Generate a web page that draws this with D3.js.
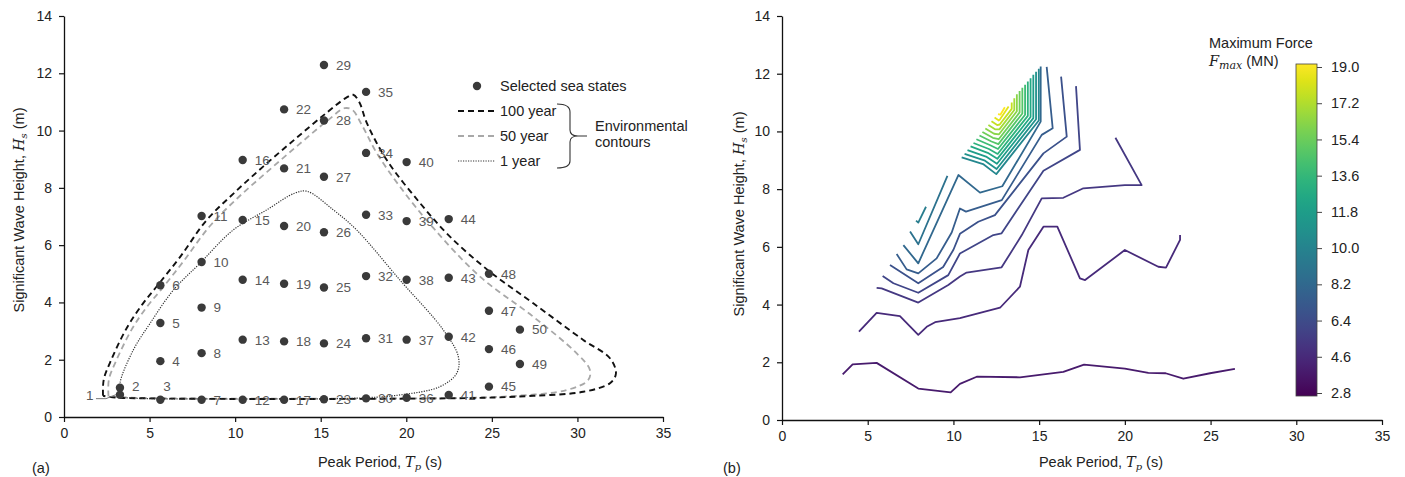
<!DOCTYPE html>
<html>
<head>
<meta charset="utf-8">
<script src="https://cdn.jsdelivr.net/npm/d3@7"></script>
<style>
  body { margin: 0; background: #fff; }
  svg text { font-family: "Liberation Sans", Arial, sans-serif; }
</style>
</head>
<body>
<div id="chart"></div>
<script>
// ---- data ----
const xTicks = [0, 5, 10, 15, 20, 25, 30, 35];
const yTicks = [0, 2, 4, 6, 8, 10, 12, 14];
const cbTicks = [2.8, 4.6, 6.4, 8.2, 10.0, 11.8, 13.6, 15.4, 17.2, 19.0];

const seaStateIds = [1,2,3,4,5,6,7,8,9,10,11,12,13,14,15,16,17,18,19,20,21,22,23,24,25,
  26,27,28,29,30,31,32,33,34,35,36,37,38,39,40,41,42,43,44,45,46,47,48,49,50];
const seaStateTp = [3.27,3.27,5.63,5.63,5.63,5.63,8.04,8.04,8.04,8.04,8.04,10.44,10.44,10.44,10.44,10.44,
  12.86,12.86,12.86,12.86,12.86,12.86,15.19,15.19,15.19,15.19,15.19,15.19,15.19,
  17.65,17.65,17.65,17.65,17.65,17.65,20.02,20.02,20.02,20.02,20.02,
  22.48,22.48,22.48,22.48,24.83,24.83,24.83,24.83,26.64,26.64];
const seaStateHs = [0.78,1.02,0.60,1.95,3.28,4.60,0.60,2.23,3.82,5.41,7.02,0.60,2.70,4.79,6.88,8.97,
  0.60,2.64,4.65,6.67,8.68,10.74,0.62,2.57,4.52,6.45,8.39,10.35,12.29,
  0.65,2.75,4.92,7.06,9.22,11.35,0.67,2.70,4.79,6.84,8.90,
  0.77,2.80,4.86,6.91,1.06,2.37,3.71,5.00,1.85,3.05];

const contour100 = [[2.28,0.74],[2.32,1.3],[2.69,1.9],[3.66,3.1],[4.6,3.95],[5.5,4.62],[6.8,5.6],
  [8.3,6.85],[9.9,7.8],[11.65,8.75],[13.5,9.7],[15.3,10.6],[16.5,11.15],[16.9,11.25],[17.25,11.0],
  [17.69,10.27],[18.86,8.97],[20.8,7.47],[22.55,6.3],[24.89,5.07],[27.42,3.97],[30.34,2.69],[31.9,2.05],
  [32.25,1.52],[31.9,1.18],[30.34,0.88],[27.42,0.74],[24.5,0.67],[20,0.64],[15,0.63],[10,0.63],
  [5,0.65],[3,0.68],[2.28,0.74]];
const contour50 = [[2.6,0.72],[2.62,1.3],[3.0,1.9],[3.95,3.05],[4.85,3.85],[5.75,4.5],[7.0,5.45],
  [8.5,6.65],[10.1,7.62],[11.85,8.55],[13.7,9.5],[15.4,10.35],[16.4,10.78],[16.85,10.72],[17.4,10.2],
  [18.27,9.22],[19.63,8.04],[21.58,6.6],[24.31,4.9],[27.42,3.5],[29.96,2.22],[30.73,1.64],[30.63,1.29],
  [29.37,0.94],[26.45,0.74],[23.6,0.67],[20,0.65],[15,0.64],[10,0.64],[5,0.66],[3,0.7],[2.6,0.72]];
const contour1 = [[3.3,0.68],[3.27,1.18],[4.05,2.34],[5.03,3.27],[6.39,4.43],[7.95,5.37],[9.89,6.53],
  [11.84,7.23],[13.5,7.82],[14.2,7.88],[15.74,7.23],[17.1,6.53],[19.63,4.78],[22.16,3.04],[23.04,2.11],
  [22.95,1.53],[21.97,1.06],[19.63,0.77],[16.71,0.65],[12,0.63],[8,0.63],[5,0.64],[3.3,0.68]];

// force contour lines (panel b): level in MN, then the polyline (Tp, Hs)
const forceLevels = [4.0, 4.7, 5.4, 6.1, 6.8, 7.5, 8.2, 8.9, 9.6,
  10.3, 11.0, 11.75, 12.5, 13.2, 13.9, 14.65, 15.4, 16.1, 16.8, 17.55, 18.3, 19.0];
const forceLines = [
  [[3.54,1.58],[4.12,1.93],[5.52,1.98],[7.95,1.09],[9.84,0.96],[10.38,1.25],[11.36,1.50],[13.88,1.48],
   [16.41,1.67],[17.62,1.92],[20.0,1.78],[21.37,1.63],[22.38,1.62],[23.41,1.43],[24.97,1.62],[26.42,1.77]],
  [[4.49,3.06],[5.52,3.71],[6.88,3.60],[7.95,2.95],[8.44,3.23],[8.93,3.39],[10.38,3.53],[12.72,3.89],
   [13.88,4.62],[14.37,5.89],[15.25,6.70],[16.06,6.70],[17.38,4.91],[17.68,4.85],[20.0,5.89],[21.95,5.31],
   [22.4,5.28],[23.22,6.24],[23.22,6.41]],
  [[5.52,4.58],[5.81,4.56],[7.95,4.07],[9.70,4.68],[10.38,4.97],[10.77,5.11],[12.81,5.29],[13.98,6.4],
   [15.15,7.68],[16.41,7.70],[17.58,8.03],[20.0,8.14],[20.98,8.14],[19.45,9.78]],
  [[5.87,4.99],[6.5,4.74],[7.95,4.41],[9.70,5.02],[10.38,5.77],[12.33,6.41],[12.81,6.47],
   [15.25,8.64],[17.38,9.36],[17.15,11.57]],
  [[6.3,5.37],[7.95,4.74],[9.4,5.3],[10.0,5.9],[10.38,6.45],[11.45,6.87],[12.42,7.10],
   [15.25,9.24],[16.61,9.82],[16.28,11.9]],
  [[6.69,5.75],[7.27,5.22],[7.95,5.08],[9.02,5.6],[9.9,6.5],[10.38,7.33],[10.73,7.22],[12.82,7.62],
   [15.15,9.88],[15.79,10.11],[15.44,12.24]],
  [[7.08,6.06],[7.95,5.43],[10.29,8.49],[11.55,7.88],[12.85,8.1],[15.09,10.34],[15.09,12.25]],
  [[7.47,6.53],[7.95,6.09],[9.65,8.46]],
  [[7.82,6.91],[7.95,6.84],[8.4,7.39]],
  [[10.48,9.10],[11.73,8.87],[12.5,8.52],[14.98,10.38],[14.98,12.17]],
  [[10.65,9.22],[11.8,9.0],[12.52,8.7],[14.82,10.42],[14.82,12.07]],
  [[10.82,9.35],[11.9,9.13],[12.54,8.88],[14.66,10.46],[14.66,11.96]],
  [[11.0,9.48],[12.0,9.26],[12.56,9.05],[14.5,10.5],[14.5,11.84]],
  [[11.17,9.6],[12.07,9.39],[12.58,9.22],[14.34,10.54],[14.34,11.73]],
  [[11.34,9.73],[12.15,9.52],[12.6,9.39],[14.18,10.58],[14.18,11.62]],
  [[11.52,9.86],[12.22,9.65],[12.62,9.56],[14.02,10.62],[14.02,11.51]],
  [[11.69,9.98],[12.3,9.78],[12.64,9.73],[13.86,10.66],[13.86,11.4]],
  [[11.86,10.1],[12.37,9.92],[12.66,9.9],[13.7,10.7],[13.7,11.29]],
  [[12.04,10.22],[12.45,10.07],[12.68,10.07],[13.55,10.74],[13.55,11.15]],
  [[12.22,10.35],[12.55,10.22],[12.7,10.24],[13.4,10.78],[13.4,11.0]],
  [[12.4,10.48],[12.65,10.38],[12.72,10.42],[13.22,10.86]],
  [[12.6,10.6],[12.74,10.58],[13.0,10.84]]
];

// ---- drawing ----
const W = 1405, H = 477;
const svg = d3.select("#chart").append("svg").attr("width", W).attr("height", H);

const xL = d3.scaleLinear().domain([0, 35]).range([64, 663]);
const yL = d3.scaleLinear().domain([0, 14]).range([417, 16]);
const xR = d3.scaleLinear().domain([0, 35]).range([782, 1382]);
const yR = d3.scaleLinear().domain([0, 14]).range([420, 16]);

function drawAxes(x, y) {
  const gx = svg.append("g")
    .attr("transform", "translate(0," + y.range()[0] + ")")
    .call(d3.axisBottom(x).tickValues(xTicks).tickSize(5).tickSizeOuter(0).tickPadding(6));
  const gy = svg.append("g")
    .attr("transform", "translate(" + x.range()[0] + ",0)")
    .call(d3.axisLeft(y).tickValues(yTicks).tickSize(5).tickSizeOuter(0).tickPadding(7));
  [gx, gy].forEach(g => {
    g.select(".domain").attr("stroke", "#111").attr("stroke-width", 1.3);
    g.selectAll(".tick line").attr("stroke", "#111").attr("stroke-width", 1.2);
    g.selectAll(".tick text").attr("font-size", 14).attr("fill", "#222")
      .style("font-family", '"Liberation Sans", Arial, sans-serif');
  });
}

function axisTitles(cxX, yX, xY, cyY, tag, tagX) {
  const t = svg.append("text").attr("x", cxX).attr("y", yX).attr("text-anchor", "middle")
    .attr("font-size", 14.5).attr("fill", "#222");
  t.append("tspan").text("Peak Period, ");
  t.append("tspan").text("T").style("font-family", '"DejaVu Serif", serif').attr("font-style", "italic");
  t.append("tspan").text("p").attr("dy", 3).attr("font-size", 10)
    .style("font-family", '"DejaVu Serif", serif').attr("font-style", "italic");
  t.append("tspan").text(" (s)").attr("dy", -3);

  const v = svg.append("text").attr("transform", "translate(" + xY + "," + cyY + ") rotate(-90)")
    .attr("text-anchor", "middle").attr("font-size", 14.5).attr("fill", "#222");
  v.append("tspan").text("Significant Wave Height, ");
  v.append("tspan").text("H").style("font-family", '"DejaVu Serif", serif').attr("font-style", "italic");
  v.append("tspan").text("s").attr("dy", 3).attr("font-size", 10)
    .style("font-family", '"DejaVu Serif", serif').attr("font-style", "italic");
  v.append("tspan").text(" (m)").attr("dy", -3);

  svg.append("text").attr("x", tagX).attr("y", 473).attr("font-size", 14.5).attr("fill", "#222").text(tag);
}

// ---- panel (a) ----
drawAxes(xL, yL);
axisTitles(380, 467, 24, 210, "(a)", 32);

const lineL = d3.line().x(d => xL(d[0])).y(d => yL(d[1])).curve(d3.curveCatmullRom.alpha(0.5));
svg.append("path").datum(contour50).attr("d", lineL).attr("fill", "none")
  .attr("stroke", "#a8a8a8").attr("stroke-width", 1.8).attr("stroke-dasharray", "6,4");
svg.append("path").datum(contour100).attr("d", lineL).attr("fill", "none")
  .attr("stroke", "#111").attr("stroke-width", 1.9).attr("stroke-dasharray", "6,4");
svg.append("path").datum(contour1).attr("d", lineL).attr("fill", "none")
  .attr("stroke", "#333").attr("stroke-width", 1.2).attr("stroke-dasharray", "1.2,1.3");

const pts = seaStateIds.map((id, i) => ({ id, tp: seaStateTp[i], hs: seaStateHs[i] }));
svg.append("g").selectAll("circle").data(pts).enter().append("circle")
  .attr("cx", d => xL(d.tp)).attr("cy", d => yL(d.hs)).attr("r", 4.2).attr("fill", "#3a3a3a");

svg.append("g").selectAll("text").data(pts).enter().append("text")
  .attr("x", d => d.id === 1 ? xL(d.tp) - 34 : d.id === 3 ? xL(d.tp) + 3 : xL(d.tp) + 12)
  .attr("y", d => d.id === 3 ? yL(d.hs) - 14 : d.id === 2 ? yL(d.hs) - 2 : yL(d.hs))
  .attr("dy", "0.36em").attr("font-size", 13.5).attr("fill", "#595959").text(d => d.id);

// leader line for label 1
const p1 = pts[0];
svg.append("polyline")
  .attr("points", [[xL(p1.tp) - 24, yL(p1.hs) + 4], [xL(p1.tp) - 14, yL(p1.hs) + 4], [xL(p1.tp) - 4, yL(p1.hs)]].join(" "))
  .attr("fill", "none").attr("stroke", "#777").attr("stroke-width", 1);

// legend (a)
const lg = svg.append("g").attr("font-size", 14.5).attr("fill", "#222");
lg.append("circle").attr("cx", 477).attr("cy", 86).attr("r", 4.2).attr("fill", "#3a3a3a");
lg.append("text").attr("x", 500).attr("y", 86).attr("dy", "0.36em").text("Selected sea states");
[["100 year", 111, "#111", "6,4", 1.9], ["50 year", 136, "#a8a8a8", "6,4", 1.8], ["1 year", 161, "#333", "1.2,1.3", 1.2]]
  .forEach(r => {
    lg.append("line").attr("x1", 458).attr("x2", 495).attr("y1", r[1]).attr("y2", r[1])
      .attr("stroke", r[2]).attr("stroke-dasharray", r[3]).attr("stroke-width", r[4]);
    lg.append("text").attr("x", 500).attr("y", r[1]).attr("dy", "0.36em").text(r[0]);
  });
const br = d3.path();
br.moveTo(557, 104); br.quadraticCurveTo(570, 104, 570, 112); br.lineTo(570, 130);
br.quadraticCurveTo(570, 136, 578, 136); br.lineTo(587, 136);
br.moveTo(578, 136); br.quadraticCurveTo(570, 136, 570, 142); br.lineTo(570, 161);
br.quadraticCurveTo(570, 168, 557, 168);
lg.append("path").attr("d", br.toString()).attr("fill", "none").attr("stroke", "#333").attr("stroke-width", 1.1);
lg.append("text").attr("x", 595).attr("y", 126).attr("dy", "0.36em").text("Environmental");
lg.append("text").attr("x", 595).attr("y", 142).attr("dy", "0.36em").text("contours");

// ---- panel (b) ----
drawAxes(xR, yR);
axisTitles(1101, 467, 744, 214, "(b)", 723);

const color = d3.scaleSequential(d3.interpolateViridis).domain([2.8, 19]);
const lineR = d3.line().x(d => xR(d[0])).y(d => yR(d[1]));
svg.append("g").selectAll("path").data(forceLines).enter().append("path")
  .attr("d", lineR).attr("fill", "none").attr("stroke-width", 1.8).attr("stroke-linejoin", "round")
  .attr("stroke", (d, i) => color(forceLevels[i]));

// colour bar
const cb = d3.scaleLinear().domain([2.8, 19]).range([393, 67]);
const grad = svg.append("defs").append("linearGradient").attr("id", "vir")
  .attr("x1", 0).attr("y1", 1).attr("x2", 0).attr("y2", 0);
d3.range(0, 1.0001, 0.05).forEach(t => {
  grad.append("stop").attr("offset", t).attr("stop-color", d3.interpolateViridis(t));
});
svg.append("rect").attr("x", 1296).attr("y", 64).attr("width", 21).attr("height", 332)
  .attr("fill", "url(#vir)").attr("stroke", "#444").attr("stroke-width", 0.8);
const cba = svg.append("g").attr("transform", "translate(1317,0)")
  .call(d3.axisRight(cb).tickValues(cbTicks).tickFormat(d3.format(".1f")).tickSize(5).tickPadding(9).tickSizeOuter(0));
cba.select(".domain").remove();
cba.selectAll(".tick line").attr("stroke", "#444");
cba.selectAll(".tick text").attr("font-size", 14.5).attr("fill", "#222")
  .style("font-family", '"Liberation Sans", Arial, sans-serif');

svg.append("text").attr("x", 1209).attr("y", 48).attr("font-size", 14.5).attr("fill", "#222").text("Maximum Force");
const ft = svg.append("text").attr("x", 1209).attr("y", 66).attr("font-size", 14.5).attr("fill", "#222");
ft.append("tspan").text("F").style("font-family", '"DejaVu Serif", serif').attr("font-style", "italic");
ft.append("tspan").text("max").attr("dy", 3).attr("font-size", 11)
  .style("font-family", '"DejaVu Serif", serif').attr("font-style", "italic");
ft.append("tspan").text(" (MN)").attr("dy", -3);
</script>
</body>
</html>
